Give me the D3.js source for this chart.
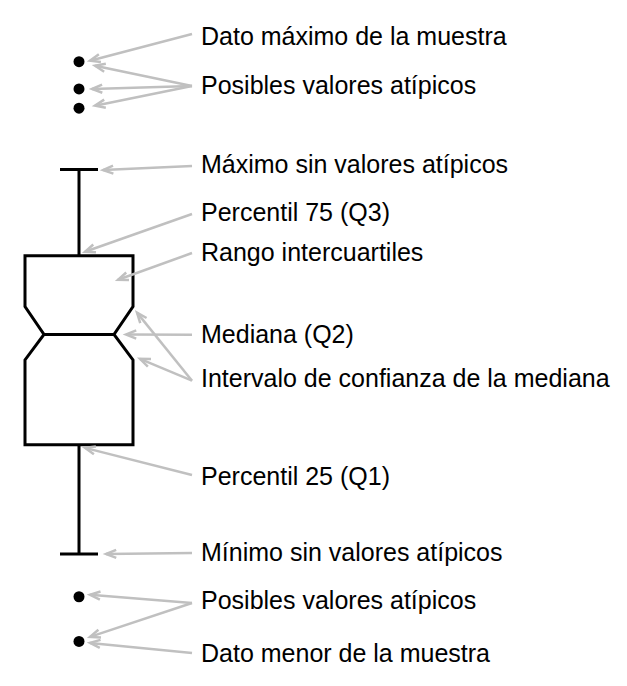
<!DOCTYPE html>
<html>
<head>
<meta charset="utf-8">
<script src="https://cdn.jsdelivr.net/npm/d3@7"></script>
<style>
  html, body { margin: 0; padding: 0; background: #ffffff; }
  svg { display: block; }
</style>
</head>
<body>
<div id="chart"></div>
<script>
// ---------- data ----------
const category = ["muestra"];
const statNames = ["min", "q1", "notchLow", "median", "notchHigh", "q3", "max"];
const statValues = [17.1, 34.7, 48.4, 52.5, 57.0, 65.2, 79.1];
const outliersHigh = [96.5, 92.1, 89.0];
const outliersLow = [10.2, 3.0];
const labels = [
  "Dato máximo de la muestra",
  "Posibles valores atípicos",
  "Máximo sin valores atípicos",
  "Percentil 75 (Q3)",
  "Rango intercuartiles",
  "Mediana (Q2)",
  "Intervalo de confianza de la mediana",
  "Percentil 25 (Q1)",
  "Mínimo sin valores atípicos",
  "Posibles valores atípicos",
  "Dato menor de la muestra"
];
// which element(s) each label points to
const labelTargets = [
  ["hi0"], ["hi0", "hi1", "hi2"], ["max"], ["q3"], ["iqr"], ["median"],
  ["notchHigh", "notchLow"], ["q1"], ["min"], ["lo0", "lo1"], ["lo1b"]
];

// ---------- layout ----------
const W = 627, H = 686;
const stats = {};
statNames.forEach((n, i) => stats[n] = statValues[i]);

const y = d3.scaleLinear().domain([0, 100]).range([660, 40]);
const x = d3.scaleBand().domain(category).range([25, 133]).padding(0);
const cx = x(category[0]) + x.bandwidth() / 2;
const halfW = x.bandwidth() / 2;
const notchHalf = halfW - 19;
const capHalf = 19;

const labelX = 201;
const lineX = 192;
const labelBaselines = [45, 94, 173, 221, 261, 343, 387, 485, 561, 609, 662];
const lineStartY = [34, 86, 166, 214, 253, 334.7, 380.7, 475, 553, 603, 653];

// arrow tip offsets relative to the referenced element (layout)
const tipSpec = {
  hi0: [ [11, -1] ],
  hi0b: [ [16, 4] ],
  hi1: [ [13, 0] ],
  hi2: [ [16, -2.5] ],
  max: [ [24, 0.5] ],
  q3: [ [6, -4] ],
  iqr: [ [39, 24] ],
  median: [ [47, 0] ],
  notchHigh: [ [58, 6] ],
  notchLow: [ [61, -1] ],
  q1: [ [6, 3] ],
  min: [ [27, 0] ],
  lo0: [ [11, -2] ],
  lo1: [ [11, -4.5] ],
  lo1b: [ [11, 1.5] ]
};
function refPoint(ref, labelIdx) {
  let key = ref;
  if (ref === "hi0" && labelIdx === 1) key = "hi0b";
  let vy;
  if (ref.startsWith("hi")) vy = y(outliersHigh[+ref[2]]);
  else if (ref.startsWith("lo")) vy = y(outliersLow[+ref[2]]);
  else if (ref === "iqr") vy = y(stats.q3);
  else vy = y(stats[ref]);
  const off = tipSpec[key][0];
  return [cx + off[0], vy + off[1]];
}

const svg = d3.select("#chart").append("svg")
  .attr("width", W).attr("height", H);

const black = "#000000";
const gray = "#c0c0c0";

// ---------- box ----------
const gBox = svg.append("g");
const xl = cx - halfW, xr = cx + halfW, nl = cx - notchHalf, nr = cx + notchHalf;
const boxPath = d3.path();
boxPath.moveTo(xl, y(stats.q3));
boxPath.lineTo(xr, y(stats.q3));
boxPath.lineTo(xr, y(stats.notchHigh));
boxPath.lineTo(nr, y(stats.median));
boxPath.lineTo(xr, y(stats.notchLow));
boxPath.lineTo(xr, y(stats.q1));
boxPath.lineTo(xl, y(stats.q1));
boxPath.lineTo(xl, y(stats.notchLow));
boxPath.lineTo(nl, y(stats.median));
boxPath.lineTo(xl, y(stats.notchHigh));
boxPath.closePath();
gBox.append("path").attr("d", boxPath.toString())
  .attr("fill", "#ffffff").attr("stroke", black).attr("stroke-width", 3)
  .attr("stroke-linejoin", "miter");
gBox.append("line").attr("x1", nl).attr("x2", nr)
  .attr("y1", y(stats.median)).attr("y2", y(stats.median))
  .attr("stroke", black).attr("stroke-width", 3);

// whiskers
[["q3", "max"], ["q1", "min"]].forEach(([a, b]) => {
  gBox.append("line").attr("x1", cx).attr("x2", cx)
    .attr("y1", y(stats[a])).attr("y2", y(stats[b]))
    .attr("stroke", black).attr("stroke-width", 3);
  gBox.append("line").attr("x1", cx - capHalf).attr("x2", cx + capHalf)
    .attr("y1", y(stats[b])).attr("y2", y(stats[b]))
    .attr("stroke", black).attr("stroke-width", 3);
});

// outliers
gBox.selectAll("circle.out")
  .data(outliersHigh.concat(outliersLow))
  .join("circle").attr("class", "out")
  .attr("cx", cx).attr("cy", d => y(d)).attr("r", 5.5)
  .attr("fill", black);

// ---------- annotations ----------
const gAnn = svg.append("g");
labels.forEach((txt, i) => {
  const start = [lineX, lineStartY[i]];
  labelTargets[i].forEach(ref => {
    const tip = refPoint(ref, i);
    gAnn.append("line")
      .attr("x1", start[0]).attr("y1", start[1])
      .attr("x2", tip[0]).attr("y2", tip[1])
      .attr("stroke", gray).attr("stroke-width", 2.5);
    const ang = Math.atan2(start[1] - tip[1], start[0] - tip[0]);
    const L = 11, spread = 0.38;
    const w1 = [tip[0] + L * Math.cos(ang + spread), tip[1] + L * Math.sin(ang + spread)];
    const w2 = [tip[0] + L * Math.cos(ang - spread), tip[1] + L * Math.sin(ang - spread)];
    gAnn.append("path")
      .attr("d", `M${w1[0]},${w1[1]}L${tip[0]},${tip[1]}L${w2[0]},${w2[1]}`)
      .attr("fill", "none").attr("stroke", gray).attr("stroke-width", 2.5)
      .attr("stroke-linejoin", "miter");
  });
  gAnn.append("text")
    .attr("x", labelX).attr("y", labelBaselines[i])
    .attr("font-family", "'Liberation Sans', Arial, sans-serif")
    .attr("font-size", 25)
    .attr("fill", "#000000")
    .text(txt);
});
</script>
</body>
</html>
